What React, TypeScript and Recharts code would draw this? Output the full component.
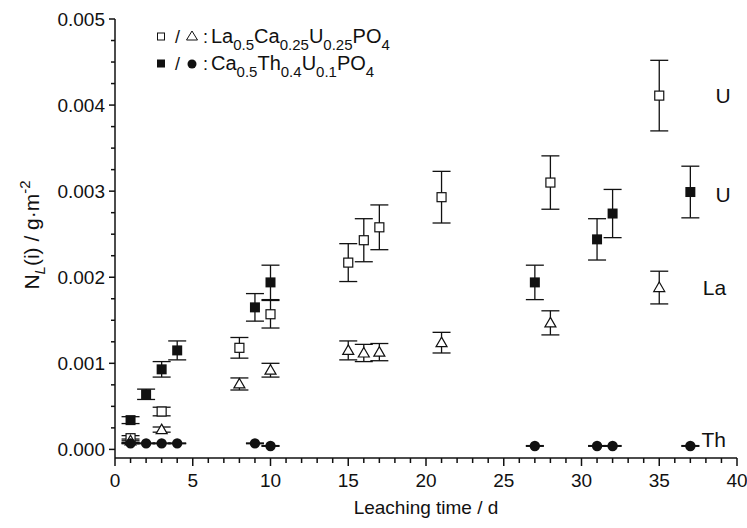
import React from 'react';
import { ScatterChart, Scatter, XAxis, YAxis, ErrorBar, ReferenceDot } from 'recharts';

// Leaching time (d) and normalized leaching N_L(i) (g·m^-2)
const laUX = [1, 3, 8, 10, 15, 16, 17, 21, 28, 35];
const laUY = [0.00013, 0.00044, 0.00118, 0.00157, 0.00217, 0.00243, 0.00258, 0.00293, 0.0031, 0.00411];
const laUErr = [0.00003, 0.00005, 0.00012, 0.00016, 0.00022, 0.00025, 0.00026, 0.0003, 0.00031, 0.00041];

const laLaX = [1, 3, 8, 10, 15, 16, 17, 21, 28, 35];
const laLaY = [0.0001, 0.00023, 0.00076, 0.00092, 0.00115, 0.00112, 0.00113, 0.00124, 0.00147, 0.00188];
const laLaErr = [0.00002, 0.00003, 0.00007, 0.00008, 0.00011, 0.0001, 0.0001, 0.00012, 0.00014, 0.00019];

const caUX = [1, 2, 3, 4, 9, 10, 27, 31, 32, 37];
const caUY = [0.00034, 0.00064, 0.00093, 0.00115, 0.00165, 0.00194, 0.00194, 0.00244, 0.00274, 0.00299];
const caUErr = [0.00004, 0.00006, 0.00009, 0.00011, 0.00016, 0.0002, 0.0002, 0.00024, 0.00028, 0.0003];

const caThX = [1, 2, 3, 4, 9, 10, 27, 31, 32, 37];
const caThY = [0.00007, 0.00007, 0.00007, 0.00007, 0.00007, 0.00004, 0.00004, 0.00004, 0.00004, 0.00004];
const caThErr = [0.000003, 0.000003, 0.000003, 0.000003, 0.000003, 0.000003, 0.000003, 0.000003, 0.000003, 0.000003];

const xTicks = [0, 1, 2, 3, 4, 5, 6, 7, 8, 9, 10, 11, 12, 13, 14, 15, 16, 17, 18, 19, 20,
  21, 22, 23, 24, 25, 26, 27, 28, 29, 30, 31, 32, 33, 34, 35, 36, 37, 38, 39, 40];
const yTicks = [0, 0.00025, 0.0005, 0.00075, 0.001, 0.00125, 0.0015, 0.00175, 0.002, 0.00225,
  0.0025, 0.00275, 0.003, 0.00325, 0.0035, 0.00375, 0.004, 0.00425, 0.0045, 0.00475, 0.005];

const annotations = [
  { text: 'U', x: 39.1, y: 0.00411 },
  { text: 'U', x: 39.1, y: 0.00296 },
  { text: 'La', x: 38.55, y: 0.00188 },
  { text: 'Th', x: 38.5, y: 0.00012 },
];

const build = (xs: number[], ys: number[], es: number[]) =>
  xs.map((x, i) => ({ x, y: ys[i], e: es[i] }));

const FONT = '"Liberation Sans", Arial, sans-serif';
const INK = '#111';

const XTick = (props: any) => {
  const { x, y, payload } = props;
  const v = payload.value;
  const major = v % 5 === 0;
  return (
    <g>
      <line x1={x} x2={x} y1={y} y2={y + (major ? 8 : 5)} stroke={INK} strokeWidth={1.5} />
      {major && (
        <text x={x} y={y + 29} textAnchor="middle" fontSize={19} fontFamily={FONT} fill={INK}>
          {v}
        </text>
      )}
    </g>
  );
};

const YTick = (props: any) => {
  const { x, y, payload, index } = props;
  const major = index % 4 === 0;
  return (
    <g>
      <line x1={x} x2={x - (major ? 6 : 4)} y1={y} y2={y} stroke={INK} strokeWidth={1.5} />
      {major && (
        <text x={x - 10} y={y + 6.5} textAnchor="end" fontSize={19} fontFamily={FONT} fill={INK}>
          {payload.value.toFixed(3)}
        </text>
      )}
    </g>
  );
};

const OpenSquare = (p: any) => (
  <rect x={p.cx - 4.5} y={p.cy - 4.5} width={9} height={9} fill="#fff" stroke={INK} strokeWidth={1.2} />
);
const OpenTriangle = (p: any) => (
  <path d={`M${p.cx},${p.cy - 5.5} L${p.cx + 5.5},${p.cy + 4} L${p.cx - 5.5},${p.cy + 4} Z`} fill="#fff" stroke={INK} strokeWidth={1.2} />
);
const FilledSquare = (p: any) => (
  <rect x={p.cx - 5} y={p.cy - 5} width={10} height={10} fill={INK} />
);
const FilledCircle = (p: any) => <circle cx={p.cx} cy={p.cy} r={5.2} fill={INK} />;

const AnnText = (text: string) => (p: any) => (
  <text x={p.cx} y={p.cy + 7.5} textAnchor="middle" fontSize={21} fontFamily={FONT} fill={INK}>
    {text}
  </text>
);

export default function App() {
  const sub = 15;
  return (
    <div style={{ position: 'absolute', left: 0, top: 0, width: 747, height: 528, background: '#fff' }}>
      <ScatterChart width={747} height={528} margin={{ top: 19, right: 10, left: 0, bottom: 0 }}>
        <XAxis
          type="number"
          dataKey="x"
          domain={[0, 40]}
          ticks={xTicks}
          interval={0}
          allowDataOverflow
          height={70}
          tickSize={0}
          tickMargin={0}
          tickLine={false}
          tick={<XTick />}
          axisLine={{ stroke: INK, strokeWidth: 1.5 }}
        />
        <YAxis
          type="number"
          dataKey="y"
          domain={[-0.0001, 0.005]}
          ticks={yTicks}
          interval={0}
          allowDataOverflow
          width={115}
          tickSize={0}
          tickMargin={0}
          tickLine={false}
          tick={<YTick />}
          axisLine={{ stroke: INK, strokeWidth: 1.5 }}
        />
        <Scatter data={build(laUX, laUY, laUErr)} shape={OpenSquare} isAnimationActive={false}>
          <ErrorBar dataKey="e" direction="y" width={9} stroke={INK} strokeWidth={1.3} isAnimationActive={false} />
        </Scatter>
        <Scatter data={build(laLaX, laLaY, laLaErr)} shape={OpenTriangle} isAnimationActive={false}>
          <ErrorBar dataKey="e" direction="y" width={9} stroke={INK} strokeWidth={1.3} isAnimationActive={false} />
        </Scatter>
        <Scatter data={build(caUX, caUY, caUErr)} shape={FilledSquare} isAnimationActive={false}>
          <ErrorBar dataKey="e" direction="y" width={9} stroke={INK} strokeWidth={1.3} isAnimationActive={false} />
        </Scatter>
        <Scatter data={build(caThX, caThY, caThErr)} shape={FilledCircle} isAnimationActive={false}>
          <ErrorBar dataKey="e" direction="y" width={9} stroke={INK} strokeWidth={1.5} isAnimationActive={false} />
        </Scatter>
        {annotations.map((a, i) => (
          <ReferenceDot key={i} x={a.x} y={a.y} r={0} ifOverflow="visible" shape={AnnText(a.text)} />
        ))}
      </ScatterChart>
      <svg width={747} height={528} style={{ position: 'absolute', left: 0, top: 0, pointerEvents: 'none' }}>
        <g fontFamily={FONT} fill={INK}>
          {/* legend line 1 */}
          <rect x={157.5} y={33} width={7} height={7} fill="#fff" stroke={INK} strokeWidth={1} />
          <text x={175} y={43} fontSize={18}>/</text>
          <path d="M192,31 L197.5,40 L186.5,40 Z" fill="#fff" stroke={INK} strokeWidth={1} />
          <text x={203} y={43} fontSize={18}>:</text>
          <text x={211} y={43} fontSize={20}>
            La<tspan fontSize={sub} dy={7}>0.5</tspan>
            <tspan dy={-7}>Ca</tspan>
            <tspan fontSize={sub} dy={7}>0.25</tspan>
            <tspan dy={-7}>U</tspan>
            <tspan fontSize={sub} dy={7}>0.25</tspan>
            <tspan dy={-7}>PO</tspan>
            <tspan fontSize={sub} dy={7}>4</tspan>
          </text>
          {/* legend line 2 */}
          <rect x={157} y={59.5} width={8} height={8} fill={INK} />
          <text x={175} y={70} fontSize={18}>/</text>
          <circle cx={192} cy={64} r={4.5} fill={INK} />
          <text x={203} y={70} fontSize={18}>:</text>
          <text x={211} y={70} fontSize={20}>
            Ca<tspan fontSize={sub} dy={7}>0.5</tspan>
            <tspan dy={-7}>Th</tspan>
            <tspan fontSize={sub} dy={7}>0.4</tspan>
            <tspan dy={-7}>U</tspan>
            <tspan fontSize={sub} dy={7}>0.1</tspan>
            <tspan dy={-7}>PO</tspan>
            <tspan fontSize={sub} dy={7}>4</tspan>
          </text>
          {/* x axis title */}
          <text x={426} y={514} textAnchor="middle" fontSize={19}>Leaching time / d</text>
          {/* y axis title */}
          <text transform="translate(39,235) rotate(-90)" textAnchor="middle" fontSize={21}>
            N<tspan fontSize={15} dy={6} fontStyle="italic">L</tspan>
            <tspan dy={-6}>(i) / g·m</tspan>
            <tspan fontSize={15} dy={-9}>-2</tspan>
          </text>
        </g>
      </svg>
    </div>
  );
}
